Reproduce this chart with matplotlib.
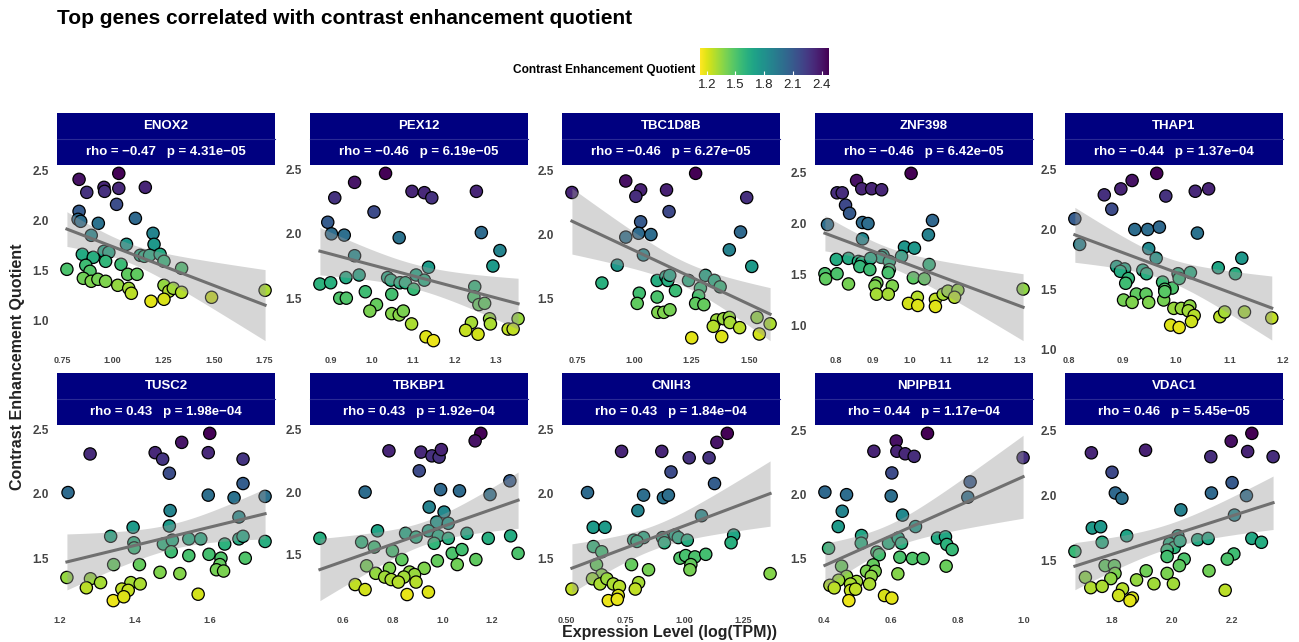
import numpy as np
import matplotlib.pyplot as plt
from matplotlib.colors import Normalize
from matplotlib.patches import Rectangle

plt.rcParams['font.family'] = ['Liberation Sans', 'DejaVu Sans']

genes = ["ENOX2", "PEX12", "TBC1D8B", "ZNF398", "THAP1",
         "TUSC2", "TBKBP1", "CNIH3", "NPIPB11", "VDAC1"]
rhos = ["\u22120.47", "\u22120.46", "\u22120.46", "\u22120.46", "\u22120.44",
        "0.43", "0.43", "0.43", "0.44", "0.46"]
pvals = ["4.31e\u221205", "6.19e\u221205", "6.27e\u221205", "6.42e\u221205", "1.37e\u221204",
         "1.98e\u221204", "1.92e\u221204", "1.84e\u221204", "1.17e\u221204", "5.45e\u221205"]

# expression (x) and CEQ (y) per gene
enox2_x = [0.835, 0.873, 0.958, 0.961, 1.031, 1.031, 1.02, 1.162, 0.835, 0.83, 0.843, 0.93, 1.113,
           1.2, 0.895, 1.069, 1.205, 0.851, 0.958, 0.982, 0.905, 0.966, 1.137, 1.157, 1.183, 1.235,
           1.254, 1.341, 0.775, 0.868, 0.889, 1.042, 1.075, 1.121, 0.856, 0.895, 0.928, 0.966,
           1.026, 1.08, 1.093, 1.254, 1.278, 1.3, 1.341, 1.19, 1.254, 1.489, 1.753]
enox2_y = [2.41, 2.28, 2.33, 2.29, 2.47, 2.32, 2.16, 2.33, 2.09, 2.01, 1.99, 1.97, 2.02,
           1.87, 1.85, 1.76, 1.76, 1.66, 1.69, 1.68, 1.63, 1.59, 1.65, 1.64, 1.65, 1.66,
           1.59, 1.52, 1.51, 1.55, 1.49, 1.56, 1.46, 1.46, 1.42, 1.39, 1.41, 1.39,
           1.35, 1.32, 1.27, 1.35, 1.29, 1.32, 1.28, 1.19, 1.21, 1.23, 1.30]

pex12_x = [1.033, 0.958, 0.91, 1.097, 1.127, 1.145, 1.253, 1.005, 0.893, 0.902, 0.933, 1.066, 1.265,
           1.31, 0.958, 1.293, 1.137, 0.969, 0.937, 0.874, 0.9, 1.038, 1.046, 1.068, 1.081, 1.107,
           1.127, 1.101, 1.249, 1.247, 1.259, 1.273, 0.984, 1.048, 0.922, 0.938, 1.011, 0.995,
           1.048, 1.066, 1.076, 1.096, 1.285, 1.287, 1.354, 1.241, 1.227, 1.257, 1.33, 1.342,
           1.131, 1.149]
pex12_y = [2.47, 2.40, 2.28, 2.33, 2.32, 2.28, 2.33, 2.17, 2.09, 2.0, 1.99, 1.97, 2.01,
           1.87, 1.83, 1.75, 1.74, 1.68, 1.66, 1.61, 1.62, 1.66, 1.64, 1.62, 1.62, 1.68,
           1.64, 1.57, 1.59, 1.51, 1.45, 1.46, 1.55, 1.53, 1.50, 1.50, 1.45, 1.40,
           1.38, 1.37, 1.40, 1.30, 1.34, 1.30, 1.34, 1.31, 1.25, 1.22, 1.26, 1.26,
           1.20, 1.17]

tbc1d8b_x = [1.268, 0.728, 0.963, 1.028, 1.007, 1.141, 1.491, 1.152, 1.028, 1.019, 1.073, 0.963,
             1.464, 1.415, 1.04, 0.926, 1.513, 0.859, 1.1, 1.138, 1.147, 1.155, 1.237, 1.311,
             1.35, 1.375, 1.289, 1.18, 1.022, 1.281, 1.1, 1.013, 1.268, 1.304, 1.103, 1.129,
             1.156, 1.36, 1.39, 1.345, 1.415, 1.418, 1.46, 1.536, 1.593, 1.546, 1.382, 1.251]
tbc1d8b_y = [2.48, 2.33, 2.42, 2.35, 2.30, 2.35, 2.29, 2.18, 2.10, 2.01, 2.0, 1.98,
             2.02, 1.88, 1.84, 1.76, 1.75, 1.62, 1.64, 1.67, 1.64, 1.68, 1.64, 1.68,
             1.64, 1.59, 1.58, 1.56, 1.54, 1.52, 1.51, 1.46, 1.46, 1.45, 1.39, 1.39,
             1.41, 1.33, 1.34, 1.28, 1.35, 1.31, 1.27, 1.35, 1.30, 1.22, 1.20, 1.19]

znf398_x = [1.005, 0.857, 0.871, 0.804, 0.818, 0.898, 0.925, 0.827, 0.838, 0.778, 0.873, 0.888,
            1.063, 1.052, 0.873, 0.987, 1.014, 0.929, 0.924, 0.979, 0.946, 0.802, 0.835, 0.862,
            0.871, 0.895, 0.866, 1.054, 0.946, 0.893, 0.943, 0.771, 0.773, 0.804, 0.835, 1.011,
            1.041, 0.912, 0.907, 0.954, 0.911, 0.943, 1.022, 0.998, 1.023, 1.071, 1.071, 1.092,
            1.105, 1.132, 1.123, 1.309]
znf398_y = [2.49, 2.42, 2.34, 2.30, 2.30, 2.34, 2.33, 2.18, 2.10, 1.99, 2.01, 2.0,
            2.03, 1.89, 1.85, 1.77, 1.76, 1.69, 1.67, 1.68, 1.63, 1.65, 1.66, 1.63,
            1.62, 1.66, 1.58, 1.60, 1.55, 1.55, 1.52, 1.51, 1.46, 1.51, 1.41, 1.47,
            1.46, 1.42, 1.39, 1.39, 1.31, 1.31, 1.28, 1.22, 1.20, 1.26, 1.19, 1.31,
            1.34, 1.35, 1.28, 1.36]

thap1_x = [0.964, 0.918, 0.897, 0.866, 0.88, 0.981, 1.036, 1.061, 0.811, 0.82, 0.923, 0.947,
           0.969, 1.04, 0.949, 0.963, 0.889, 0.904, 0.896, 0.938, 0.945, 0.911, 0.906, 0.975,
           0.993, 0.979, 1.004, 1.006, 1.027, 1.079, 1.123, 1.111, 0.902, 0.926, 0.944, 0.918,
           0.949, 0.977, 0.979, 0.996, 1.01, 1.026, 1.023, 1.034, 1.029, 0.99, 1.006, 1.082,
           1.091, 1.128, 1.179]
thap1_y = [2.47, 2.41, 2.34, 2.29, 2.17, 2.28, 2.32, 2.34, 2.09, 1.875, 2.0, 2.0,
           2.02, 1.97, 1.84, 1.76, 1.69, 1.67, 1.65, 1.66, 1.63, 1.59, 1.55, 1.56,
           1.51, 1.50, 1.63, 1.59, 1.64, 1.68, 1.76, 1.63, 1.41, 1.46, 1.46, 1.39,
           1.39, 1.41, 1.48, 1.34, 1.34, 1.36, 1.32, 1.28, 1.23, 1.20, 1.18, 1.27,
           1.31, 1.31, 1.26]

tusc2_x = [1.6, 1.525, 1.28, 1.454, 1.474, 1.596, 1.689, 1.492, 1.689, 1.221, 1.596, 1.665,
           1.748, 1.494, 1.678, 1.395, 1.492, 1.335, 1.397, 1.398, 1.476, 1.5, 1.544, 1.576,
           1.678, 1.689, 1.64, 1.748, 1.497, 1.544, 1.598, 1.63, 1.695, 1.343, 1.412, 1.627,
           1.618, 1.637, 1.218, 1.281, 1.308, 1.467, 1.52, 1.27, 1.389, 1.414, 1.365, 1.382,
           1.342, 1.37, 1.569]
tusc2_y = [2.47, 2.40, 2.31, 2.32, 2.27, 2.32, 2.27, 2.16, 2.08, 2.01, 1.99, 1.97,
           1.98, 1.87, 1.82, 1.74, 1.75, 1.67, 1.62, 1.58, 1.61, 1.64, 1.65, 1.65,
           1.65, 1.67, 1.61, 1.63, 1.55, 1.52, 1.53, 1.50, 1.50, 1.45, 1.45, 1.45,
           1.41, 1.40, 1.35, 1.34, 1.31, 1.39, 1.38, 1.27, 1.31, 1.30, 1.26, 1.25,
           1.17, 1.20, 1.22]

tbkbp1_x = [1.155, 1.132, 0.785, 0.914, 0.958, 0.987, 0.996, 0.907, 0.689, 0.993, 1.069, 1.272,
            1.192, 0.947, 1.007, 0.977, 1.024, 0.739, 0.852, 0.894, 0.944, 0.984, 1.024, 1.099,
            0.507, 0.675, 0.726, 0.967, 1.185, 1.275, 0.799, 1.04, 1.079, 1.305, 0.837, 0.98,
            1.06, 1.135, 0.695, 0.787, 0.732, 0.927, 0.868, 0.888, 0.768, 0.794, 0.845, 0.823,
            0.894, 0.649, 0.689, 0.858, 0.944]
tbkbp1_y = [2.47, 2.41, 2.33, 2.32, 2.29, 2.28, 2.34, 2.17, 2.0, 2.02, 2.01, 2.09,
            1.98, 1.88, 1.84, 1.76, 1.75, 1.69, 1.67, 1.64, 1.69, 1.65, 1.63, 1.67,
            1.63, 1.60, 1.56, 1.59, 1.63, 1.65, 1.53, 1.51, 1.54, 1.51, 1.46, 1.45,
            1.42, 1.46, 1.41, 1.39, 1.35, 1.39, 1.36, 1.34, 1.32, 1.30, 1.32, 1.28,
            1.28, 1.26, 1.22, 1.18, 1.20]

cnih3_x = [1.182, 1.138, 0.735, 0.905, 1.021, 1.105, 0.944, 1.128, 0.591, 0.828, 0.912, 0.933,
           0.804, 1.073, 0.615, 0.665, 1.209, 1.198, 0.828, 0.786, 0.8, 0.908, 0.916, 0.961,
           0.975, 1.013, 0.616, 0.651, 0.629, 0.777, 0.849, 0.982, 1.006, 1.045, 1.091, 1.028,
           1.024, 1.363, 0.651, 0.612, 0.644, 0.673, 0.7, 0.726, 0.807, 0.793, 0.525, 0.679,
           0.721, 0.717]
cnih3_y = [2.47, 2.40, 2.33, 2.33, 2.28, 2.28, 2.17, 2.08, 2.01, 1.99, 1.97, 1.99,
           1.87, 1.83, 1.74, 1.74, 1.68, 1.62, 1.66, 1.64, 1.63, 1.66, 1.62, 1.68,
           1.66, 1.64, 1.59, 1.55, 1.45, 1.45, 1.41, 1.50, 1.52, 1.51, 1.53, 1.45,
           1.41, 1.38, 1.37, 1.34, 1.30, 1.34, 1.30, 1.28, 1.31, 1.26, 1.26, 1.17,
           1.21, 1.18]

npipb11_x = [0.71, 0.616, 0.549, 0.618, 0.643, 0.67, 0.997, 0.603, 0.838, 0.831, 0.402, 0.467,
             0.601, 0.454, 0.635, 0.442, 0.674, 0.512, 0.511, 0.593, 0.622, 0.632, 0.74, 0.764,
             0.768, 0.784, 0.413, 0.558, 0.565, 0.627, 0.665, 0.697, 0.452, 0.766, 0.547, 0.527,
             0.553, 0.467, 0.541, 0.621, 0.443, 0.497, 0.417, 0.43, 0.479, 0.479, 0.494, 0.536,
             0.581, 0.603, 0.474]
npipb11_y = [2.48, 2.42, 2.34, 2.34, 2.32, 2.30, 2.29, 2.17, 2.10, 1.98, 2.02, 2.0,
             1.99, 1.87, 1.84, 1.75, 1.75, 1.68, 1.62, 1.62, 1.66, 1.62, 1.66, 1.67,
             1.61, 1.57, 1.58, 1.55, 1.53, 1.51, 1.50, 1.50, 1.44, 1.44, 1.45, 1.40,
             1.40, 1.36, 1.36, 1.38, 1.33, 1.32, 1.29, 1.27, 1.30, 1.25, 1.26, 1.30,
             1.21, 1.19, 1.17]

vdac1_x = [2.267, 2.198, 1.731, 1.912, 2.13, 2.253, 2.338, 1.8, 2.201, 1.811, 1.833, 2.132,
           2.249, 2.03, 2.209, 1.734, 1.762, 1.849, 1.767, 2.02, 1.992, 2.008, 2.027, 2.086,
           2.121, 2.267, 2.299, 1.676, 1.984, 1.984, 2.041, 2.207, 2.185, 1.777, 1.808, 2.025,
           1.81, 1.796, 1.914, 2.124, 1.711, 1.882, 1.94, 1.984, 2.005, 1.729, 1.767, 1.835,
           1.822, 1.868, 1.86, 2.178]
vdac1_y = [2.48, 2.42, 2.33, 2.35, 2.30, 2.34, 2.30, 2.18, 2.10, 2.02, 1.98, 2.02,
           2.0, 1.89, 1.85, 1.75, 1.76, 1.69, 1.64, 1.69, 1.63, 1.60, 1.65, 1.66,
           1.67, 1.67, 1.64, 1.57, 1.58, 1.53, 1.51, 1.55, 1.51, 1.46, 1.46, 1.46,
           1.40, 1.36, 1.42, 1.42, 1.37, 1.35, 1.32, 1.40, 1.32, 1.29, 1.30, 1.28,
           1.23, 1.21, 1.19, 1.27]

xs = [enox2_x, pex12_x, tbc1d8b_x, znf398_x, thap1_x,
      tusc2_x, tbkbp1_x, cnih3_x, npipb11_x, vdac1_x]
ys = [enox2_y, pex12_y, tbc1d8b_y, znf398_y, thap1_y,
      tusc2_y, tbkbp1_y, cnih3_y, npipb11_y, vdac1_y]

xticks = [[0.75, 1.0, 1.25, 1.5, 1.75], [0.9, 1.0, 1.1, 1.2, 1.3], [0.75, 1.0, 1.25, 1.5],
          [0.8, 0.9, 1.0, 1.1, 1.2, 1.3], [0.8, 0.9, 1.0, 1.1, 1.2],
          [1.2, 1.4, 1.6], [0.6, 0.8, 1.0, 1.2], [0.5, 0.75, 1.0, 1.25],
          [0.4, 0.6, 0.8, 1.0], [1.8, 2.0, 2.2]]
xfmt = ["%.2f", "%.1f", "%.2f", "%.1f", "%.1f", "%.1f", "%.1f", "%.2f", "%.1f", "%.1f"]
yticks = [1.0, 1.5, 2.0, 2.5]

W, H = 1299, 642
fig = plt.figure(figsize=(W / 100, H / 100), dpi=100)
norm = Normalize(1.13, 2.476)
cmap = plt.get_cmap("viridis_r")
navy = "#000080"

col_left = [57, 310, 562, 815, 1065]
pw, ph = 218, 184
row_top = [165, 425]


def keep_ticks(ticks, lo, hi):
    tol = 0.04 * (hi - lo)
    kept = [t for t in ticks if lo - tol <= t <= hi + tol]
    return kept, min([lo] + kept), max([hi] + kept)


for i, gene in enumerate(genes):
    r, c = divmod(i, 5)
    left = col_left[c] / W
    bottom = 1 - (row_top[r] + ph) / H
    ax = fig.add_axes([left, bottom, pw / W, ph / H])
    x = np.array(xs[i])
    y = np.array(ys[i])

    ax.scatter(x, y, c=y, cmap=cmap, norm=norm, s=78, edgecolors="black",
               linewidths=0.9, zorder=2)

    # lm fit with 95% band
    n = len(x)
    b, a = np.polyfit(x, y, 1)
    res = y - (a + b * x)
    s = np.sqrt(np.sum(res ** 2) / (n - 2))
    xx = np.linspace(x.min(), x.max(), 100)
    fit = a + b * xx
    se = s * np.sqrt(1 / n + (xx - x.mean()) ** 2 / np.sum((x - x.mean()) ** 2))
    ax.fill_between(xx, fit - 2.01 * se, fit + 2.01 * se, color="#999999",
                    alpha=0.4, lw=0, zorder=3)
    ax.plot(xx, fit, color="#707070", lw=2.2, zorder=4)

    ax.margins(0.05)
    ylo, yhi = ax.get_ylim()
    xlo, xhi = ax.get_xlim()
    yt, ylo, yhi = keep_ticks(yticks, ylo, yhi)
    xt, xlo, xhi = keep_ticks(xticks[i], xlo, xhi)
    ax.set_yticks(yt)
    ax.set_xticks(xt)
    ax.set_xticklabels([xfmt[i] % t for t in xt])
    ax.set_ylim(ylo, yhi)
    ax.set_xlim(xlo, xhi)
    ax.tick_params(length=0)
    ax.tick_params(axis="y", labelsize=8.5, pad=6, labelcolor="#444444")
    ax.tick_params(axis="x", labelsize=6.5, pad=5, labelcolor="#444444")
    for lab in ax.get_xticklabels() + ax.get_yticklabels():
        lab.set_fontweight("bold")
    for sp in ax.spines.values():
        sp.set_visible(False)

    # two-line strip
    sh = 26 / ph
    ax.add_patch(Rectangle((0, 1), 1, 2 * sh, transform=ax.transAxes, clip_on=False,
                           facecolor=navy, edgecolor="none", zorder=5))
    ax.plot([0, 1], [1 + sh, 1 + sh], transform=ax.transAxes, clip_on=False,
            color="#2a2a95", lw=0.8, zorder=6)
    ax.text(0.5, 1 + 1.5 * sh, gene, transform=ax.transAxes, ha="center", va="center",
            color="white", fontsize=9.5, fontweight="bold", zorder=7)
    ax.text(0.5, 1 + 0.5 * sh, f"rho = {rhos[i]}   p = {pvals[i]}", transform=ax.transAxes,
            ha="center", va="center", color="white", fontsize=9.5, fontweight="bold", zorder=7)

fig.text(57 / W, 1 - 19 / H, "Top genes correlated with contrast enhancement quotient",
         ha="left", va="center", fontsize=15, fontweight="bold")

cax = fig.add_axes([700 / W, 1 - 75 / H, 129 / W, 27 / H])
cb = fig.colorbar(plt.cm.ScalarMappable(norm=norm, cmap=cmap), cax=cax,
                  orientation="horizontal")
cb.set_ticks([1.2, 1.5, 1.8, 2.1, 2.4])
cb.outline.set_visible(False)
cax.tick_params(length=3, color="white", direction="in", labelsize=9.5, pad=3,
                labelcolor="#222222")
fig.text(695 / W, 1 - 70 / H, "Contrast Enhancement Quotient", ha="right", va="center",
         fontsize=8.6, fontweight="bold")

fig.text(670 / W, 1 - 633 / H, "Expression Level (log(TPM))", ha="center", va="center",
         fontsize=11.5, fontweight="bold", color="#222222")
fig.text(18 / W, 1 - 367 / H, "Contrast Enhancement Quotient", ha="center", va="center",
         rotation=90, fontsize=11.5, fontweight="bold", color="#222222")

fig.savefig("out.png", dpi=100)
